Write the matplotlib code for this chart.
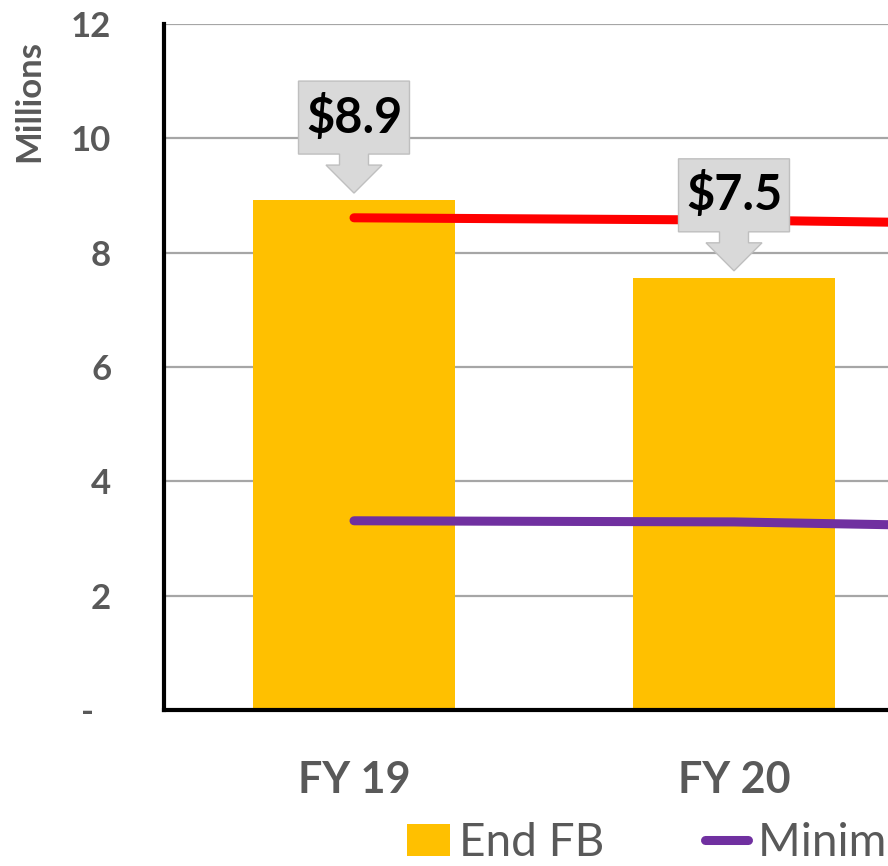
import matplotlib
matplotlib.use('Agg')
import matplotlib.pyplot as plt
import matplotlib.transforms as mtransforms
from matplotlib.patches import Polygon, Patch
from matplotlib.lines import Line2D

plt.rcParams['font.family'] = ['Lato', 'DejaVu Sans']

# data (millions); the picture is cut on the right, only the lines reach the 3rd year
years = ['FY 19', 'FY 20']
end_fb = [8.92, 7.56]
fb_labels = ['$8.9', '$7.5']
line_years = ['FY 19', 'FY 20', 'FY 21']
minimum_fb = [3.31, 3.29, 3.17]
target_fb = [8.61, 8.57, 8.48]
yticks = [0, 2, 4, 6, 8, 10, 12]
ytick_labels = ['-  ', '2', '4', '6', '8', '10', '12']

grey = '#595959'
fig = plt.figure(figsize=(8.88, 8.66), dpi=100)
# axes is wider than the picture: the chart is cut on the right
ax = fig.add_axes([164 / 888, 156 / 866, 1140 / 888, 686 / 866])

x = list(range(len(years)))
xl = list(range(len(line_years)))
ax.bar(x, end_fb, width=0.53, color='#FFC000', zorder=2)
ax.plot(xl, minimum_fb, color='#7030A0', lw=6.5, solid_capstyle='round', zorder=3)
ax.plot(xl, target_fb, color='#FF0000', lw=6.5, solid_capstyle='round', zorder=3)

ax.set_xlim(-0.5, len(line_years) - 0.5)
ax.set_ylim(0, 12)
ax.set_yticks(yticks)
ax.set_yticklabels(ytick_labels)
ax.set_xticks(x)
ax.set_xticklabels(years)
ax.grid(axis='y', color='#A6A6A6', lw=1.6, zorder=0)
ax.set_axisbelow(True)
ax.tick_params(axis='both', length=0, colors=grey)
ax.tick_params(axis='y', labelsize=25, pad=38)
ax.tick_params(axis='x', labelsize=31, pad=36)
for lab in ax.get_xticklabels() + ax.get_yticklabels():
    lab.set_fontweight('bold')
for s in ['top', 'right']:
    ax.spines[s].set_visible(False)
for s in ['left', 'bottom']:
    ax.spines[s].set_linewidth(3)
    ax.spines[s].set_color('black')
    ax.spines[s].set_zorder(4)

fig.text(29 / 888, 1 - 101 / 866, 'Millions', rotation=90, ha='center', va='center',
         fontsize=25, fontweight='bold', color=grey)

# grey callouts with down arrow above each bar (shape in pixels/100 = inches)
shape = [(0, 7), (28, 35), (14.5, 35), (14.5, 46), (55.5, 46), (55.5, 119),
         (-55.5, 119), (-55.5, 46), (-14.5, 46), (-14.5, 35), (-28, 35)]
shape = [(a / 100, b / 100) for a, b in shape]
for xi, v, lab in zip(x, end_fb, fb_labels):
    tr = fig.dpi_scale_trans + mtransforms.ScaledTranslation(xi, v, ax.transData)
    ax.add_patch(Polygon(shape, closed=True, transform=tr, facecolor='#D9D9D9',
                         edgecolor='#BFBFBF', lw=1, zorder=5))
    ax.text(0, 0.83, lab, transform=tr, ha='center', va='center', fontsize=35,
            fontweight='bold', color='black', zorder=6)

handles = [Patch(facecolor='#FFC000', label='End FB'),
           Line2D([], [], color='#7030A0', lw=6.5, solid_capstyle='round',
                  label='Minimum Fund Balance'),
           Line2D([], [], color='#FF0000', lw=6.5, solid_capstyle='round',
                  label='Target Fund Balance')]
leg = fig.legend(handles=handles, loc='center left', bbox_to_anchor=(407 / 888, 23 / 866),
                 ncol=3, frameon=False, fontsize=33, borderpad=0, borderaxespad=0,
                 handlelength=0.94, handleheight=0.7, handletextpad=0.2, columnspacing=2.2)
for t in leg.get_texts():
    t.set_color(grey)

fig.savefig('out.png', dpi=100)
